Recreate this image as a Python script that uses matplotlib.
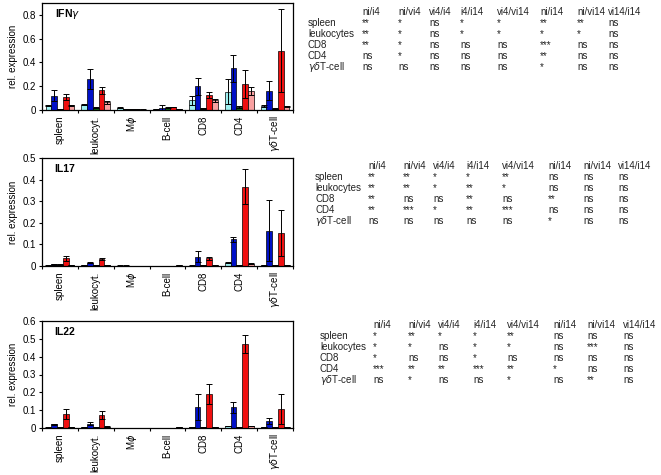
import numpy as np
import matplotlib
matplotlib.use('Agg')
import matplotlib.pyplot as plt

plt.rcParams['font.family'] = ['Liberation Sans', 'DejaVu Sans']

cells = ['spleen', 'leukocyt.', 'M$\\phi$', 'B-cell', 'CD8', 'CD4', '$\\gamma\\delta$T-cell']
groups = ['ni', 'i4', 'vi4', 'i14', 'vi14']
colors = ['#9ff0f0', '#0010c8', '#0a6a10', '#f01010', '#f8a0a0']

# mean values per group (rows) for each cell type (columns)
ifng_mean = [[0.035, 0.045, 0.020, 0.005, 0.080, 0.155, 0.035],
             [0.120, 0.260, 0.010, 0.020, 0.200, 0.350, 0.160],
             [0.010, 0.020, 0.008, 0.020, 0.015, 0.025, 0.010],
             [0.110, 0.165, 0.005, 0.025, 0.130, 0.220, 0.500],
             [0.040, 0.065, 0.004, 0.010, 0.080, 0.160, 0.030]]
ifng_err = [[0.005, 0.005, 0.003, 0.002, 0.040, 0.105, 0.010],
            [0.045, 0.085, 0.002, 0.020, 0.070, 0.115, 0.080],
            [0.002, 0.003, 0.002, 0.003, 0.003, 0.005, 0.003],
            [0.025, 0.030, 0.002, 0.003, 0.025, 0.120, 0.350],
            [0.005, 0.012, 0.001, 0.002, 0.010, 0.035, 0.005]]

il17_mean = [[0.003, 0.003, 0.002, 0.001, 0.002, 0.015, 0.003],
             [0.008, 0.015, 0.002, 0.001, 0.043, 0.123, 0.163],
             [0.006, 0.004, 0.001, 0.001, 0.003, 0.005, 0.003],
             [0.035, 0.033, 0.001, 0.001, 0.035, 0.366, 0.153],
             [0.005, 0.005, 0.001, 0.003, 0.003, 0.010, 0.005]]
il17_err = [[0.001, 0.001, 0.001, 0.000, 0.001, 0.003, 0.001],
            [0.002, 0.003, 0.001, 0.000, 0.026, 0.010, 0.141],
            [0.001, 0.001, 0.000, 0.000, 0.001, 0.001, 0.001],
            [0.011, 0.006, 0.000, 0.000, 0.005, 0.081, 0.105],
            [0.001, 0.001, 0.000, 0.001, 0.001, 0.002, 0.001]]

il22_mean = [[0.002, 0.003, 0.002, 0.002, 0.005, 0.012, 0.004],
             [0.020, 0.025, 0.002, 0.002, 0.118, 0.115, 0.040],
             [0.003, 0.003, 0.001, 0.001, 0.003, 0.004, 0.003],
             [0.078, 0.072, 0.002, 0.002, 0.190, 0.470, 0.107],
             [0.006, 0.008, 0.001, 0.004, 0.005, 0.012, 0.005]]
il22_err = [[0.001, 0.001, 0.000, 0.000, 0.001, 0.002, 0.001],
            [0.002, 0.010, 0.000, 0.000, 0.072, 0.032, 0.015],
            [0.001, 0.001, 0.000, 0.000, 0.001, 0.001, 0.001],
            [0.026, 0.023, 0.000, 0.000, 0.058, 0.050, 0.083],
            [0.001, 0.001, 0.000, 0.001, 0.001, 0.002, 0.001]]

comparisons = ['ni/i4', 'ni/vi4', 'vi4/i4', 'i4/i14', 'vi4/vi14', 'ni/i14', 'ni/vi14', 'vi14/i14']
table_rows = ['spleen', 'leukocytes', 'CD8', 'CD4', '$\\gamma\\delta$T-cell']
ifng_sig = [['**', '*', 'ns', '*', '*', '**', '**', 'ns'],
            ['**', '*', 'ns', '*', '*', '*', '*', 'ns'],
            ['**', '*', 'ns', 'ns', 'ns', '***', 'ns', 'ns'],
            ['ns', '*', 'ns', 'ns', 'ns', '**', 'ns', 'ns'],
            ['ns', 'ns', 'ns', 'ns', 'ns', '*', 'ns', 'ns']]
il17_sig = [['**', '**', '*', '*', '**', 'ns', 'ns', 'ns'],
            ['**', '**', '*', '**', '*', 'ns', 'ns', 'ns'],
            ['**', 'ns', 'ns', '**', 'ns', '**', 'ns', 'ns'],
            ['**', '***', '*', '**', '***', 'ns', 'ns', 'ns'],
            ['ns', 'ns', 'ns', 'ns', 'ns', '*', 'ns', 'ns']]
il22_sig = [['*', '**', '*', '*', '**', 'ns', 'ns', 'ns'],
            ['*', '*', 'ns', '*', '*', 'ns', '***', 'ns'],
            ['*', 'ns', 'ns', '*', 'ns', 'ns', 'ns', 'ns'],
            ['***', '**', '**', '***', '**', '*', 'ns', 'ns'],
            ['ns', '*', 'ns', 'ns', '*', 'ns', '**', 'ns']]

panels = [
    ('IFN$\\gamma$', ifng_mean, ifng_err, 0.9, [0, 0.2, 0.4, 0.6, 0.8], ifng_sig,
     [42, 3, 293, 110], 308, [362, 398, 429, 460, 497, 540, 577, 608], 12),
    ('IL17', il17_mean, il17_err, 0.5, [0, 0.1, 0.2, 0.3, 0.4, 0.5], il17_sig,
     [42, 158, 293, 266], 315, [368, 403, 433, 466, 502, 548, 583, 618], 166),
    ('IL22', il22_mean, il22_err, 0.6, [0, 0.1, 0.2, 0.3, 0.4, 0.5, 0.6], il22_sig,
     [42, 321, 293, 428], 320, [373, 408, 438, 473, 507, 553, 587, 623], 325),
]

W, H = 661, 475
fig = plt.figure(figsize=(W / 100, H / 100), dpi=100)

x = np.arange(len(cells))
bw = 0.16
for title, mean, err, ymax, yt, sig, box, rowx, colx, hy in panels:
    l, t, r, b = box
    ax = fig.add_axes([l / W, 1 - b / H, (r - l) / W, (b - t) / H])
    for i in range(len(groups)):
        pos = x + (i - 2) * bw
        ax.bar(pos, mean[i], bw, color=colors[i], edgecolor='black', linewidth=0.5, zorder=2)
        ax.errorbar(pos, mean[i], yerr=err[i], fmt='none', ecolor='black',
                    elinewidth=0.7, capsize=2.5, capthick=0.7, zorder=3)
    ax.set_xlim(-0.5, len(cells) - 0.5)
    ax.set_ylim(0, ymax)
    ax.set_yticks(yt)
    ax.set_yticklabels(['0'] + ['%g' % v for v in yt[1:]], fontsize=7)
    ax.set_xticks(x)
    ax.set_xticklabels(cells, rotation=90, fontsize=7)
    ax.tick_params(axis='x', length=0, pad=4)
    ax.set_xticks(np.arange(len(cells) + 1) - 0.5, minor=True)
    ax.tick_params(axis='x', which='minor', length=2, width=0.8)
    ax.tick_params(axis='y', length=2.5, width=0.8, pad=2)
    for s in ax.spines.values():
        s.set_linewidth(0.9)
    ax.set_ylabel('rel. expression', fontsize=7, labelpad=3)
    ax.text(0.05, 0.9, title, transform=ax.transAxes, fontsize=7.5,
            fontweight='bold', va='center')

    # significance table
    for j, c in enumerate(comparisons):
        fig.text(colx[j] / W, 1 - hy / H, c, fontsize=7, color='#222222', va='center')
    for k, row in enumerate(table_rows):
        yy = 1 - (hy + 11 * (k + 1)) / H
        fig.text(rowx / W, yy, row, fontsize=7, color='#222222', va='center')
        for j, s in enumerate(sig[k]):
            fig.text(colx[j] / W, yy, s, fontsize=7, color='#222222', va='center')

fig.savefig('out.png', dpi=100)
